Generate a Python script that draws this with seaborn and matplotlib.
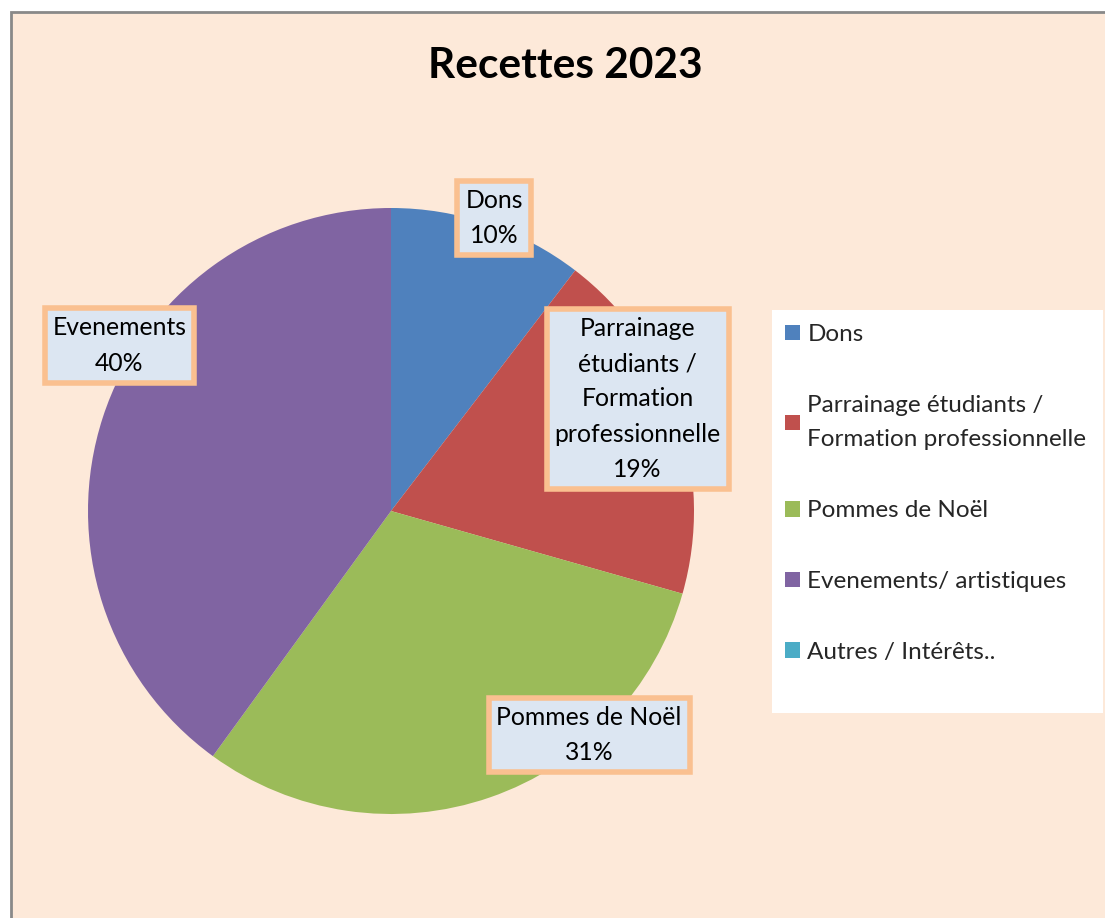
import matplotlib
matplotlib.use("Agg")
import matplotlib.pyplot as plt
from matplotlib.patches import Rectangle
import seaborn as sns

# données
categories = ["Dons", "Parrainage étudiants /\nFormation professionnelle", "Pommes de Noël",
              "Evenements/ artistiques", "Autres / Intérêts.."]
label_names = ["Dons", "Parrainage\nétudiants /\nFormation\nprofessionnelle", "Pommes de Noël",
               "Evenements", ""]
values = [10.4, 19.0, 30.6, 40.0, 0.0]
colors = ["#4F81BD", "#C0504D", "#9BBB59", "#8064A2", "#4BACC6"]

# positions des étiquettes (coordonnées de l'axe)
label_pos = [(0.670, 0.983), (0.907, 0.685), (0.827, 0.130), (0.052, 0.773)]

sns.set_theme(style="white")
plt.rcParams["font.family"] = ["Lato", "DejaVu Sans"]

W, H = 1105, 918
fig = plt.figure(figsize=(W / 100, H / 100), dpi=100, facecolor="white")

# cadre du graphique
fig.patches.append(Rectangle((11 / W, -0.1), 1.2, 1 - 12 / H + 0.1, transform=fig.transFigure,
                             facecolor="#FDE9D9", edgecolor="#898989", lw=2, zorder=-5))

fig.text(565 / W, 1 - 66 / H, "Recettes 2023", ha="center", va="center",
         fontsize=30.5, fontweight="bold", color="black")

cx, cy, r = 391, H - 511, 303
ax = fig.add_axes([(cx - r) / W, (cy - r) / H, 2 * r / W, 2 * r / H])
ax.set_facecolor("none")
wedges, _ = ax.pie(values, colors=colors, startangle=90, counterclock=False, radius=1,
                   wedgeprops=dict(linewidth=0))
ax.set_xlim(-1, 1)
ax.set_ylim(-1, 1)
ax.set_aspect("equal")
ax.axis("off")

total = sum(values)
for name, v, pos in zip(label_names, values, label_pos):
    if v <= 0:
        continue
    ax.text(pos[0], pos[1], f"{name}\n{v / total * 100:.0f}%", transform=ax.transAxes,
            ha="center", va="center", fontsize=17.8, linespacing=1.65, color="black",
            bbox=dict(boxstyle="square,pad=0.32", facecolor="#DCE6F2", edgecolor="#FAC090", lw=4),
            zorder=5)

# légende
lbox = fig.add_axes([772 / W, 1 - 713 / H, (1103 - 772) / W, (713 - 310) / H])
lbox.set_facecolor("white")
lbox.set_xticks([])
lbox.set_yticks([])
for s in lbox.spines.values():
    s.set_visible(False)
leg = lbox.legend(wedges, categories, loc="upper left", bbox_to_anchor=(13 / 331, 1 - 14 / 403),
                  frameon=False, fontsize=17.5, labelspacing=2.05, handlelength=0.62,
                  handleheight=0.62, handletextpad=0.3, borderaxespad=0, borderpad=0)
for t in leg.get_texts():
    t.set_linespacing(1.8)

fig.savefig("out.png", dpi=100, facecolor="white")
